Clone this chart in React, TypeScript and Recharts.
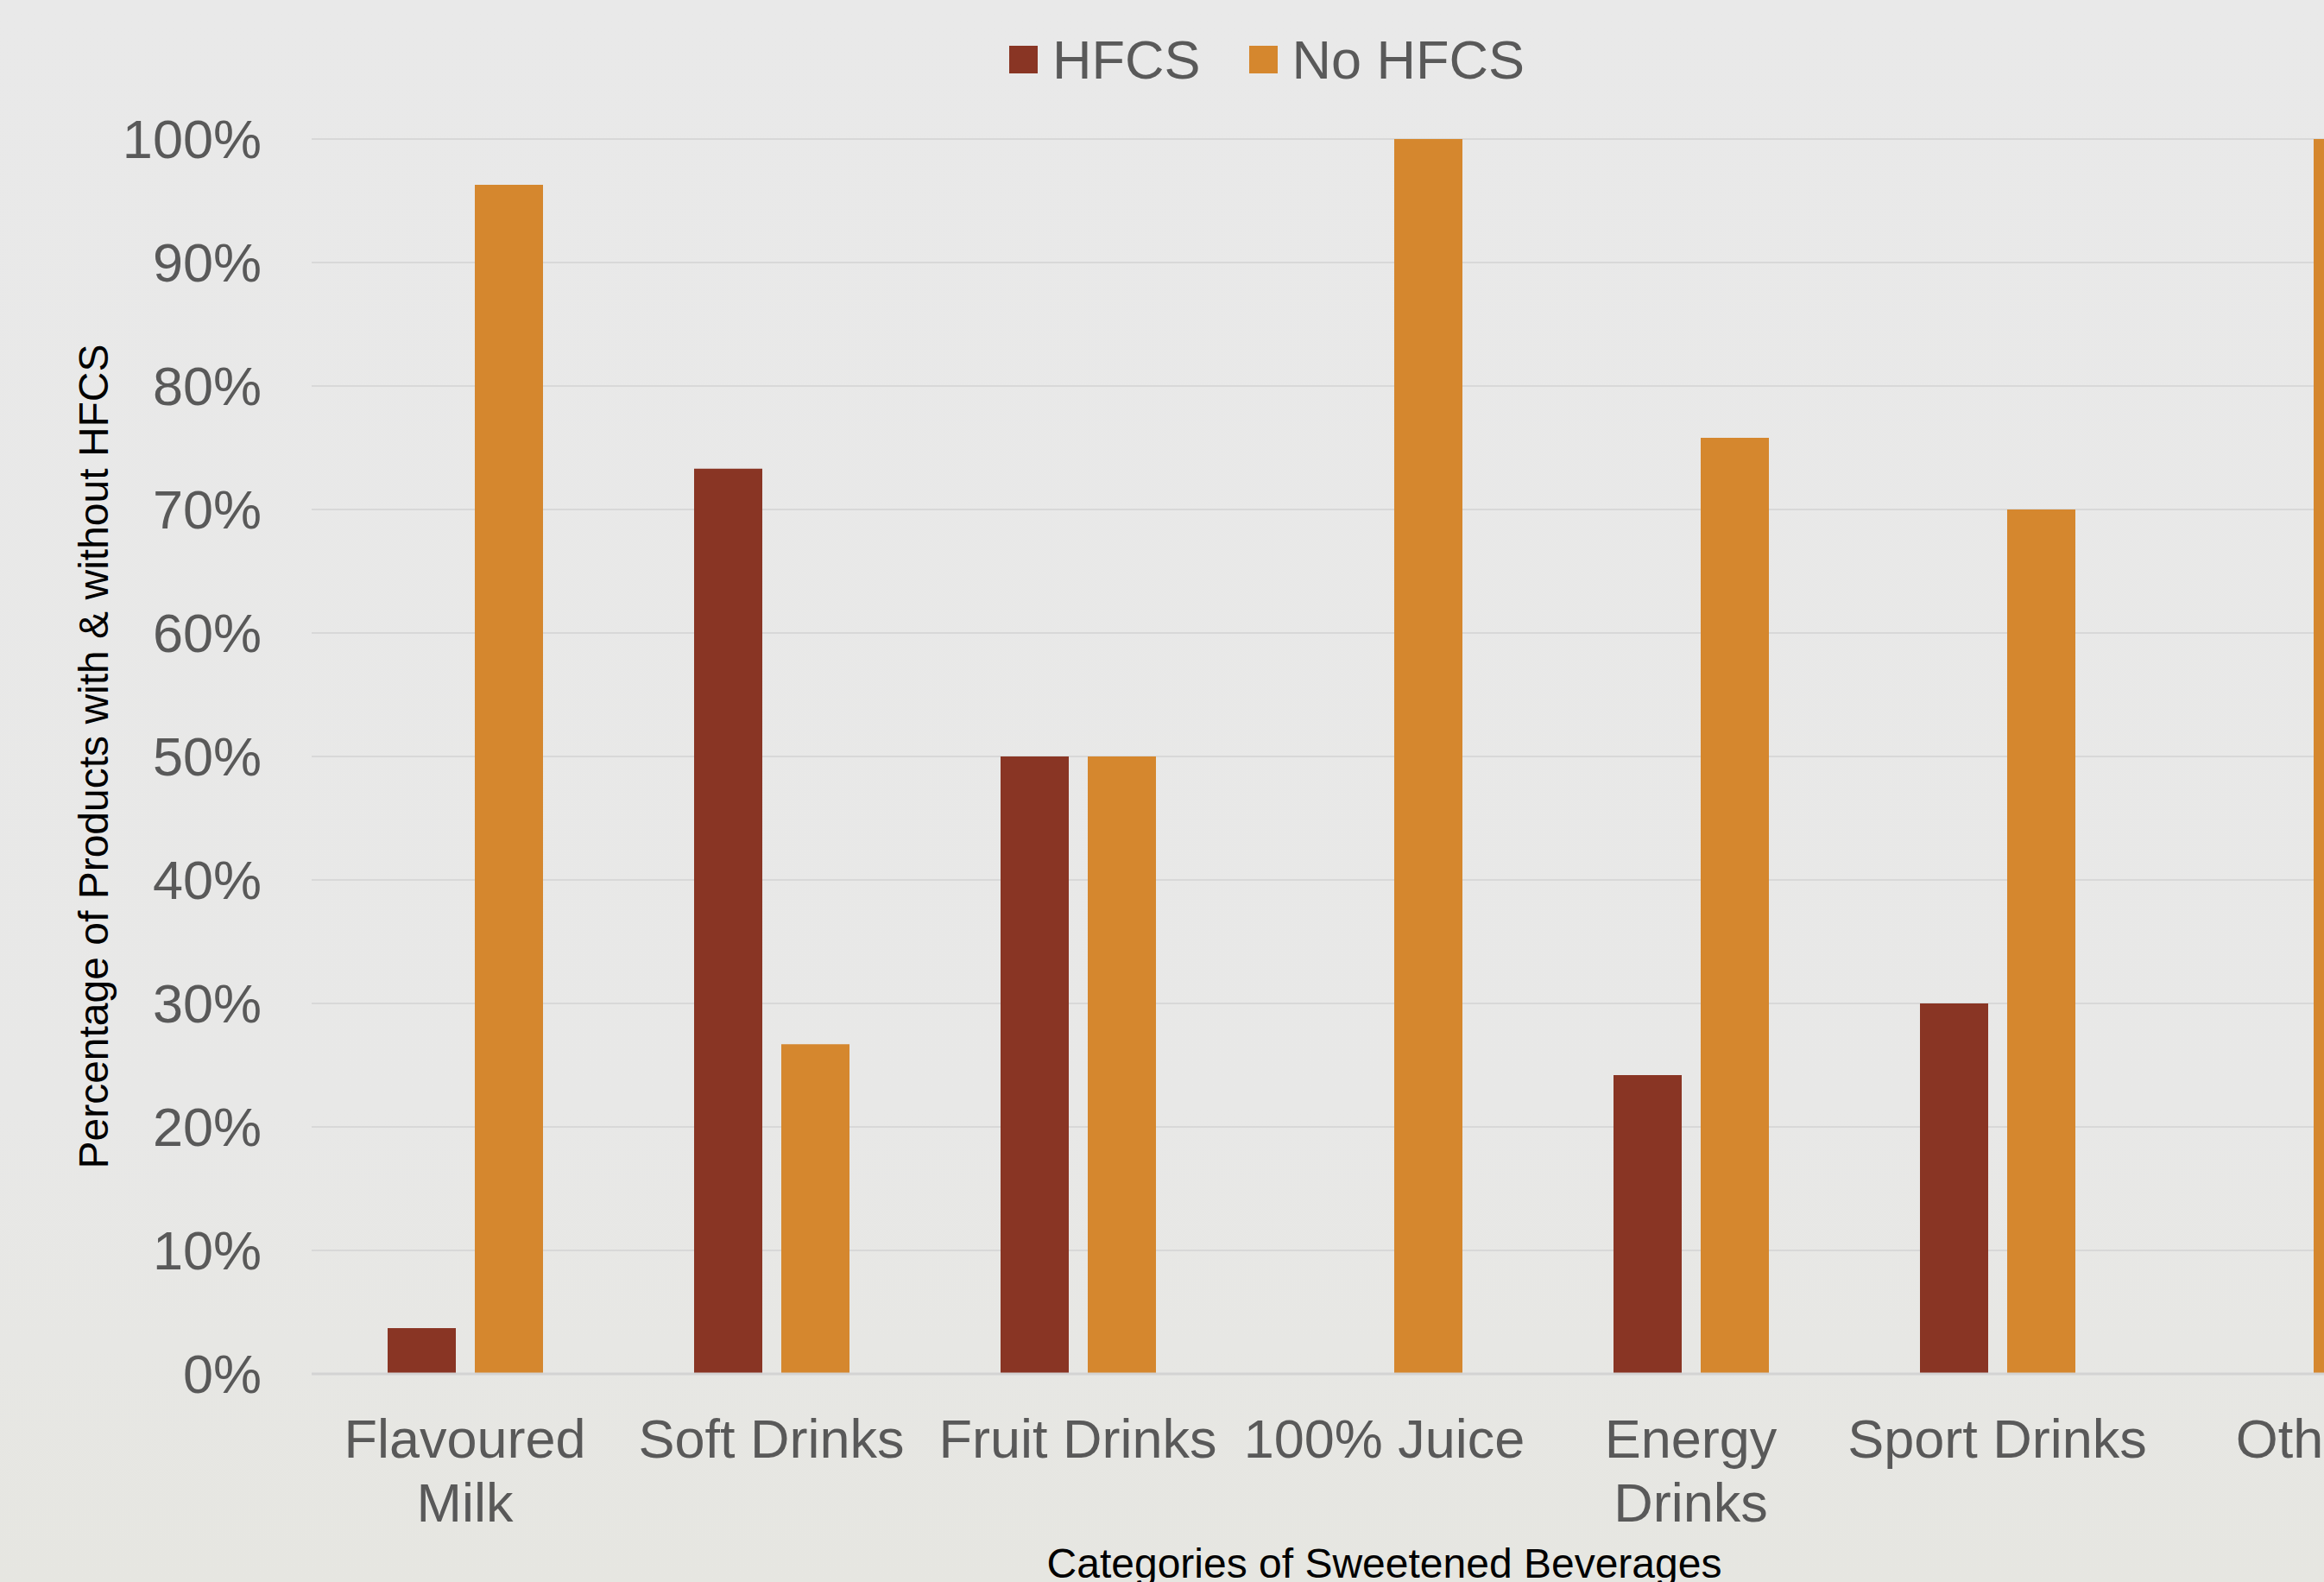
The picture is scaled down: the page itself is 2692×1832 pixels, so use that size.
import React from "react";
import { BarChart, Bar, XAxis, YAxis, CartesianGrid, Legend, Label } from "recharts";

const categories = [
  "Flavoured Milk",
  "Soft Drinks",
  "Fruit Drinks",
  "100% Juice",
  "Energy Drinks",
  "Sport Drinks",
  "Other",
];
const hfcs = [3.7, 73.3, 50, 0, 24.2, 30, 0];
const noHfcs = [96.3, 26.7, 50, 100, 75.8, 70, 100];
const yTicks = [0, 10, 20, 30, 40, 50, 60, 70, 80, 90, 100];

const FONT = "'Liberation Sans', Arial, sans-serif";
const TICK_GREY = "#595959";

const data = categories.map((c, i) => ({ category: c, hfcs: hfcs[i], noHfcs: noHfcs[i] }));

function XTick({ x, y, payload }: any) {
  const name: string = payload.value;
  const lines = name.length > 12 ? name.split(" ") : [name];
  return (
    <text x={x} y={y + 97} textAnchor="middle" fill={TICK_GREY} fontSize={63} fontFamily={FONT}>
      {lines.map((l, i) => (
        <tspan key={l} x={x} dy={i === 0 ? 0 : 74}>
          {l}
        </tspan>
      ))}
    </text>
  );
}

function YTick({ x, y, payload }: any) {
  return (
    <text x={x - 58} y={y + 22} textAnchor="end" fill={TICK_GREY} fontSize={63} fontFamily={FONT}>
      {`${payload.value}%`}
    </text>
  );
}

function LegendContent({ payload }: any) {
  return (
    <div style={{ display: "flex", alignItems: "center", fontFamily: FONT, fontSize: 63, color: TICK_GREY }}>
      {(payload || []).map((p: any, i: number) => (
        <div key={p.value} style={{ display: "flex", alignItems: "center", marginLeft: i === 0 ? 0 : 56 }}>
          <span style={{ width: 33, height: 32, background: p.color, display: "inline-block", marginRight: 17 }} />
          <span style={{ lineHeight: "72px" }}>{p.value}</span>
        </div>
      ))}
    </div>
  );
}

export default function App() {
  return (
    <div
      style={{
        position: "absolute",
        left: 0,
        top: 0,
        width: 2692,
        height: 1832,
        overflow: "hidden",
        background: "linear-gradient(#e9e9e9, #e8e8e7 70%, #e6e6e1)",
      }}
    >
      <BarChart
        width={2900}
        height={1832}
        data={data}
        margin={{ top: 161, right: 54, left: 0, bottom: 0 }}
        barGap={22}
        barSize={79}
      >
        <CartesianGrid vertical={false} stroke="#d8d8d8" strokeWidth={2} />
        <XAxis
          dataKey="category"
          height={241}
          tickLine={false}
          tickSize={0}
          tickMargin={0}
          axisLine={{ stroke: "#d3d3d3", strokeWidth: 3 }}
          tick={<XTick />}
          interval={0}
        >
          <Label
            content={({ viewBox }: any) => (
              <text
                x={viewBox.x + viewBox.width / 2}
                y={viewBox.y + viewBox.height - 5}
                textAnchor="middle"
                fill="#000"
                fontSize={48}
                fontFamily={FONT}
              >
                Categories of Sweetened Beverages
              </text>
            )}
          />
        </XAxis>
        <YAxis
          width={361}
          domain={[0, 100]}
          ticks={yTicks}
          tickLine={false}
          tickSize={0}
          tickMargin={0}
          axisLine={false}
          tick={<YTick />}
        >
          <Label
            content={({ viewBox }: any) => {
              const cx = 125;
              const cy = viewBox.y + viewBox.height / 2;
              return (
                <text
                  x={cx}
                  y={cy}
                  transform={`rotate(-90, ${cx}, ${cy})`}
                  textAnchor="middle"
                  fill="#000"
                  fontSize={48}
                  fontFamily={FONT}
                >
                  Percentage of Products with &amp; without HFCS
                </text>
              );
            }}
          />
        </YAxis>
        <Legend
          layout="horizontal"
          verticalAlign="middle"
          align="center"
          wrapperStyle={{ top: 33, left: 1169, width: "auto" }}
          content={<LegendContent />}
        />
        <Bar dataKey="hfcs" name="HFCS" fill="#893524" isAnimationActive={false} />
        <Bar dataKey="noHfcs" name="No HFCS" fill="#d5872e" isAnimationActive={false} />
      </BarChart>
    </div>
  );
}
